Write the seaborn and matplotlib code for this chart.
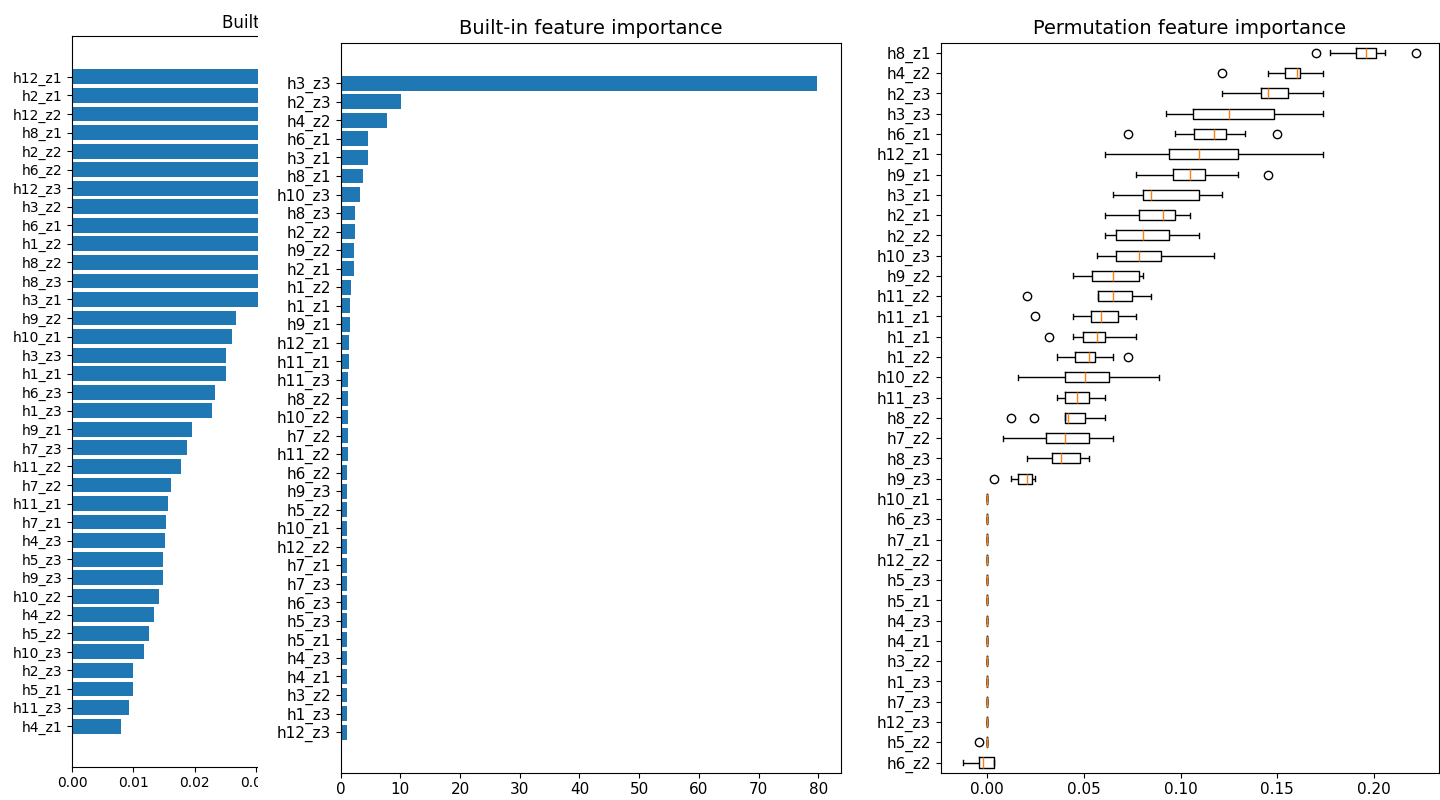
import matplotlib
matplotlib.use("Agg")
import matplotlib.pyplot as plt
from matplotlib.patches import Rectangle
import seaborn as sns
import pandas as pd

# ---------------- data ----------------
left_features = ['h12_z1', 'h2_z1', 'h12_z2', 'h8_z1', 'h2_z2', 'h6_z2', 'h12_z3', 'h3_z2',
                 'h6_z1', 'h1_z2', 'h8_z2', 'h8_z3', 'h3_z1', 'h9_z2', 'h10_z1', 'h3_z3',
                 'h1_z1', 'h6_z3', 'h1_z3', 'h9_z1', 'h7_z3', 'h11_z2', 'h7_z2', 'h11_z1',
                 'h7_z1', 'h4_z3', 'h5_z3', 'h9_z3', 'h10_z2', 'h4_z2', 'h5_z2', 'h10_z3',
                 'h2_z3', 'h5_z1', 'h11_z3', 'h4_z1']
left_values = [0.081, 0.072, 0.065, 0.058, 0.053, 0.048, 0.044, 0.041,
               0.038, 0.036, 0.034, 0.032, 0.031, 0.0267, 0.0261, 0.0251,
               0.0251, 0.0234, 0.0229, 0.0196, 0.0188, 0.0178, 0.0161, 0.0156,
               0.0153, 0.0151, 0.0148, 0.0148, 0.0142, 0.0133, 0.0125, 0.0117,
               0.0100, 0.0100, 0.0092, 0.0080]
left_ticks = [0.00, 0.01, 0.02, 0.03]

mid_features = ['h3_z3', 'h2_z3', 'h4_z2', 'h6_z1', 'h3_z1', 'h8_z1', 'h10_z3', 'h8_z3',
                'h2_z2', 'h9_z2', 'h2_z1', 'h1_z2', 'h1_z1', 'h9_z1', 'h12_z1', 'h11_z1',
                'h11_z3', 'h8_z2', 'h10_z2', 'h7_z2', 'h11_z2', 'h6_z2', 'h9_z3', 'h5_z2',
                'h10_z1', 'h12_z2', 'h7_z1', 'h7_z3', 'h6_z3', 'h5_z3', 'h5_z1', 'h4_z3',
                'h4_z1', 'h3_z2', 'h1_z3', 'h12_z3']
mid_values = [79.8, 10.1, 7.8, 4.65, 4.6, 3.8, 3.2, 2.45,
              2.4, 2.2, 2.2, 1.8, 1.6, 1.6, 1.45, 1.42,
              1.25, 1.25, 1.24, 1.24, 1.24, 1.08, 1.07, 1.06,
              1.05, 1.05, 1.04, 1.04, 1.03, 1.03, 1.02, 1.02,
              1.01, 1.01, 1.0, 1.0]

perm_features = ['h8_z1', 'h4_z2', 'h2_z3', 'h3_z3', 'h6_z1', 'h12_z1', 'h9_z1', 'h3_z1',
                 'h2_z1', 'h2_z2', 'h10_z3', 'h9_z2', 'h11_z2', 'h11_z1', 'h1_z1', 'h1_z2',
                 'h10_z2', 'h11_z3', 'h8_z2', 'h7_z2', 'h8_z3', 'h9_z3', 'h10_z1', 'h6_z3',
                 'h7_z1', 'h12_z2', 'h5_z3', 'h5_z1', 'h4_z3', 'h4_z1', 'h3_z2', 'h1_z3',
                 'h7_z3', 'h12_z3', 'h5_z2', 'h6_z2']
# permutation repeats per feature (same order as perm_features)
perm_repeats = [
    [0.170, 0.1775, 0.191, 0.193, 0.196, 0.199, 0.201, 0.206, 0.222],
    [0.1215, 0.1452, 0.1538, 0.157, 0.160, 0.161, 0.1619, 0.168, 0.1735],
    [0.1213, 0.132, 0.1416, 0.143, 0.1452, 0.150, 0.1557, 0.165, 0.1737],
    [0.0926, 0.100, 0.1062, 0.115, 0.1251, 0.135, 0.1485, 0.160, 0.1737],
    [0.0727, 0.0969, 0.1067, 0.112, 0.1174, 0.120, 0.1234, 0.1334, 0.1497],
    [0.0607, 0.080, 0.0938, 0.100, 0.1093, 0.118, 0.1296, 0.150, 0.1737],
    [0.0770, 0.088, 0.0959, 0.100, 0.1050, 0.109, 0.1126, 0.1296, 0.1452],
    [0.0648, 0.075, 0.0808, 0.083, 0.0847, 0.095, 0.1093, 0.115, 0.1213],
    [0.0607, 0.070, 0.0787, 0.085, 0.0911, 0.094, 0.0969, 0.100, 0.1050],
    [0.0607, 0.064, 0.0667, 0.074, 0.0808, 0.088, 0.0942, 0.100, 0.1093],
    [0.0567, 0.062, 0.0667, 0.073, 0.0787, 0.084, 0.0899, 0.100, 0.1174],
    [0.0443, 0.050, 0.0543, 0.060, 0.0650, 0.072, 0.0787, 0.080, 0.0804],
    [0.0203, 0.0572, 0.0575, 0.061, 0.0650, 0.070, 0.0747, 0.080, 0.0849],
    [0.0246, 0.0443, 0.0538, 0.056, 0.0586, 0.063, 0.0677, 0.072, 0.0767],
    [0.0318, 0.0443, 0.0495, 0.053, 0.0567, 0.059, 0.0607, 0.070, 0.0767],
    [0.0361, 0.042, 0.0454, 0.050, 0.0526, 0.054, 0.0557, 0.0650, 0.0727],
    [0.0160, 0.030, 0.0404, 0.046, 0.0505, 0.057, 0.0629, 0.075, 0.0890],
    [0.0361, 0.038, 0.0404, 0.044, 0.0466, 0.050, 0.0526, 0.057, 0.0607],
    [0.0122, 0.0240, 0.0404, 0.041, 0.0418, 0.046, 0.0507, 0.055, 0.0607],
    [0.0079, 0.020, 0.0306, 0.036, 0.0404, 0.046, 0.0526, 0.058, 0.0650],
    [0.0203, 0.028, 0.0335, 0.036, 0.0381, 0.043, 0.0478, 0.050, 0.0526],
    [0.0036, 0.0122, 0.0160, 0.018, 0.0203, 0.022, 0.0232, 0.024, 0.0246],
    [0.0, 0.0, 0.0, 0.0, 0.0, 0.0, 0.0, 0.0, 0.0],
    [0.0, 0.0, 0.0, 0.0, 0.0, 0.0, 0.0, 0.0, 0.0],
    [0.0, 0.0, 0.0, 0.0, 0.0, 0.0, 0.0, 0.0, 0.0],
    [0.0, 0.0, 0.0, 0.0, 0.0, 0.0, 0.0, 0.0, 0.0],
    [0.0, 0.0, 0.0, 0.0, 0.0, 0.0, 0.0, 0.0, 0.0],
    [0.0, 0.0, 0.0, 0.0, 0.0, 0.0, 0.0, 0.0, 0.0],
    [0.0, 0.0, 0.0, 0.0, 0.0, 0.0, 0.0, 0.0, 0.0],
    [0.0, 0.0, 0.0, 0.0, 0.0, 0.0, 0.0, 0.0, 0.0],
    [0.0, 0.0, 0.0, 0.0, 0.0, 0.0, 0.0, 0.0, 0.0],
    [0.0, 0.0, 0.0, 0.0, 0.0, 0.0, 0.0, 0.0, 0.0],
    [0.0, 0.0, 0.0, 0.0, 0.0, 0.0, 0.0, 0.0, 0.0],
    [0.0, 0.0, 0.0, 0.0, 0.0, 0.0, 0.0, 0.0, 0.0],
    [-0.0043, 0.0, 0.0, 0.0, 0.0, 0.0, 0.0, 0.0, 0.0],
    [-0.0124, -0.008, -0.0043, -0.003, -0.0021, 0.001, 0.0035, 0.0035, 0.0035],
]

left_title = "Built-in feature importance"
mid_title = "Built-in feature importance"
right_title = "Permutation feature importance"

# ---------------- tables ----------------
df_left = pd.DataFrame({"feature": left_features, "importance": left_values})
df_mid = pd.DataFrame({"feature": mid_features, "importance": mid_values})
rows = []
for feat, reps in zip(perm_features, perm_repeats):
    for v in reps:
        rows.append((feat, v))
df_perm = pd.DataFrame(rows, columns=["feature", "importance"])

# ---------------- figure ----------------
W, H = 1440, 800
fig = plt.figure(figsize=(W / 100, H / 100), dpi=100)

def frac(x0, y0, x1, y1):
    return [x0 / W, 1 - y1 / H, (x1 - x0) / W, (y1 - y0) / H]

ax1 = fig.add_axes(frac(72.3, 36.3, 595, 766.7))
ax2 = fig.add_axes(frac(340.6, 42.7, 841, 772.7))
ax3 = fig.add_axes(frac(940.7, 42.7, 1439, 772.7))
ax1.set_zorder(0)
ax2.set_zorder(2)
ax3.set_zorder(2)

blue = "#1f77b4"

# left (partially hidden) panel
sns.barplot(data=df_left, x="importance", y="feature", order=left_features, orient="h",
            color=blue, saturation=1, width=0.8, errorbar=None, linewidth=0, ax=ax1)
n = len(left_features)
ax1.set_ylim(n - 1 + 0.4 + 0.05 * (n - 0.2), -0.4 - 0.05 * (n - 0.2))
ax1.set_xlim(0, 0.0855)
ax1.set_xticks(left_ticks)
ax1.set_xticklabels([f"{t:.2f}" for t in left_ticks])
ax1.set_xlabel("")
ax1.set_ylabel("")
ax1.set_title(left_title, fontsize=12)
ax1.tick_params(labelsize=10)

# mask that hides the right part of the left panel
fig.add_artist(Rectangle((258 / W, 0), (650 - 258) / W, 1, transform=fig.transFigure,
                         facecolor="white", edgecolor="none", zorder=1))

# middle panel
sns.barplot(data=df_mid, x="importance", y="feature", order=mid_features, orient="h",
            color=blue, saturation=1, width=0.8, errorbar=None, linewidth=0, ax=ax2)
n = len(mid_features)
ax2.set_ylim(n - 1 + 0.4 + 0.05 * (n - 0.2), -0.4 - 0.05 * (n - 0.2))
ax2.set_xlabel("")
ax2.set_ylabel("")
ax2.set_title(mid_title, fontsize=14)
ax2.tick_params(labelsize=11)

# right panel
sns.boxplot(data=df_perm, x="importance", y="feature", order=perm_features, orient="h",
            fill=False, color="black", linecolor="black", linewidth=1.0, width=0.5, whis=1.5,
            fliersize=6,
            medianprops=dict(color="#ff7f0e", linewidth=1.0),
            flierprops=dict(marker="o", markerfacecolor="none", markeredgecolor="black",
                            markersize=6, markeredgewidth=1.0),
            ax=ax3)
ax3.set_xlabel("")
ax3.set_ylabel("")
ax3.set_title(right_title, fontsize=14)
ax3.tick_params(labelsize=11)

fig.savefig("out.png", dpi=100)
